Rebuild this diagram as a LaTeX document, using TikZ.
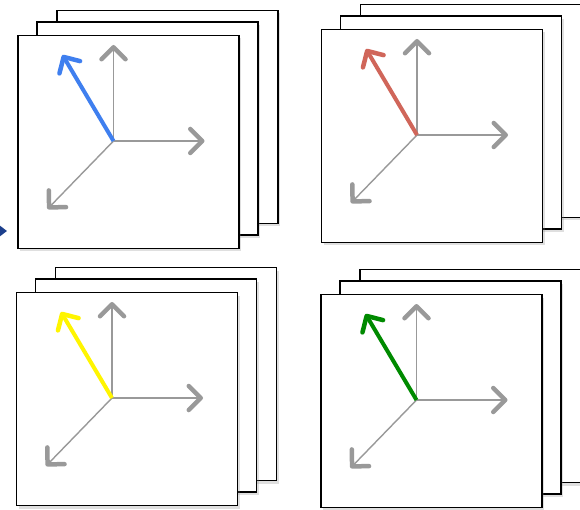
\documentclass[tikz,border=0pt]{standalone}
\usepackage{xcolor}
\usepackage{tikz}
\usetikzlibrary{positioning,arrows.meta,shadows,calc}
\definecolor{vecblue}{HTML}{3F7FEF}
\definecolor{vecred}{HTML}{D0665A}
\definecolor{vecyellow}{HTML}{FFF500}
\definecolor{vecgreen}{HTML}{008A00}
\definecolor{axisgray}{HTML}{999999}
\definecolor{navy}{HTML}{1C3F8C}
\tikzset{
    sheet/.style={rectangle, draw=black, line width=1.8pt, fill=white, minimum width=221pt, minimum height=213pt, drop shadow={shadow xshift=2pt, shadow yshift=-3pt, opacity=0.25}},
    axisarrow/.style={draw=axisgray, line width=1.4pt, -{Straight Barb[length=12pt, width=24pt, line width=4.5pt, round]}},
    vecarrow/.style={line width=4pt, -{Straight Barb[length=12pt, width=24pt, line width=4.5pt, round]}},
    pointer/.style={-{Triangle[length=9pt, width=13pt]}, line width=3pt, color=navy}
}

\begin{document}
\begin{tikzpicture}[x=1pt, y=1pt]

\clip (0,0) rectangle (580,509);
\fill[white] (0,0) rectangle (580,509);

\node[sheet] (blueback) at (167.5,392) {};
\node[sheet] (bluemid) at ($(blueback)+(-20,-11.5)$) {};
\node[sheet] (bluefront) at ($(bluemid)+(-19,-13.5)$) {};
\coordinate (blueo) at ($(bluefront)+(-15,1)$);
\draw[axisarrow] (blueo) -- ++(0,96);
\draw[axisarrow] (blueo) -- ++(91,0);
\draw[axisarrow] (blueo) -- ++(-66,-68);
\draw[vecarrow, vecblue] (blueo) -- ++(-51,86);

\node[sheet] (redback) at (471,398) {};
\node[sheet] (redmid) at ($(redback)+(-20,-11.5)$) {};
\node[sheet] (redfront) at ($(redmid)+(-19,-13.5)$) {};
\coordinate (redo) at ($(redfront)+(-15,1)$);
\draw[axisarrow] (redo) -- ++(0,96);
\draw[axisarrow] (redo) -- ++(91,0);
\draw[axisarrow] (redo) -- ++(-66,-68);
\draw[vecarrow, vecred] (redo) -- ++(-51,86);

\node[sheet] (yellowback) at (166,135) {};
\node[sheet] (yellowmid) at ($(yellowback)+(-20,-11.5)$) {};
\node[sheet] (yellowfront) at ($(yellowmid)+(-19,-13.5)$) {};
\coordinate (yellowo) at ($(yellowfront)+(-15,1)$);
\draw[axisarrow] (yellowo) -- ++(0,96);
\draw[axisarrow] (yellowo) -- ++(91,0);
\draw[axisarrow] (yellowo) -- ++(-66,-68);
\draw[vecarrow, vecyellow] (yellowo) -- ++(-51,86);

\node[sheet] (greenback) at (470.5,133) {};
\node[sheet] (greenmid) at ($(greenback)+(-20,-11.5)$) {};
\node[sheet] (greenfront) at ($(greenmid)+(-19,-13.5)$) {};
\coordinate (greeno) at ($(greenfront)+(-15,1)$);
\draw[axisarrow] (greeno) -- ++(0,96);
\draw[axisarrow] (greeno) -- ++(91,0);
\draw[axisarrow] (greeno) -- ++(-66,-68);
\draw[vecarrow, vecgreen] (greeno) -- ++(-51,86);

\coordinate (pin) at (-14,278);
\coordinate (pout) at (7,278);
\draw[pointer] (pin) -- (pout);

\end{tikzpicture}
\end{document}
